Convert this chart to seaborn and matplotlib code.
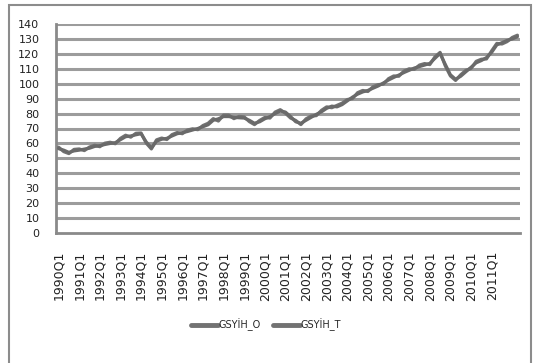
import numpy as np
import pandas as pd
import seaborn as sns
import matplotlib
matplotlib.use("Agg")
import matplotlib.pyplot as plt
from matplotlib.patches import Rectangle
from matplotlib.ticker import FixedLocator, NullFormatter

# Quarterly GDP index, 1990Q1 - 2012Q2
years = list(range(1990, 2013))
quarters = [f"{y}Q{q}" for y in years for q in range(1, 5)][:90]

gsyih_t = [56.5, 55.5, 54.0, 55.0, 55.5, 56.2, 56.8, 58.0, 58.5, 59.3,
           60.0, 60.5, 62.5, 64.5, 65.0, 65.8, 66.5, 61.0, 57.0, 61.5,
           62.8, 63.4, 65.0, 66.5, 67.2, 68.0, 69.0, 70.0, 71.2, 72.5,
           75.5, 76.5, 78.0, 78.0, 77.5, 77.2, 77.0, 75.5, 73.5, 74.5,
           76.5, 78.0, 80.0, 81.7, 81.0, 78.0, 74.5, 73.5, 75.5, 77.5,
           79.5, 81.2, 83.5, 85.0, 84.5, 86.0, 88.5, 91.0, 93.0, 94.5,
           95.5, 97.0, 98.5, 100.5, 102.5, 104.2, 105.8, 107.5, 109.0, 110.5,
           111.5, 112.5, 113.6, 117.0, 120.3, 113.0, 106.0, 103.0, 105.0, 108.0,
           111.0, 114.0, 115.5, 117.5, 121.0, 126.0, 127.5, 129.0, 130.0, 131.5]

gsyih_o = [57.5, 54.5, 53.2, 56.0, 56.3, 55.2, 57.6, 58.8, 57.8, 60.2,
           60.8, 59.8, 63.4, 65.5, 64.2, 66.8, 67.0, 60.2, 56.3, 62.4,
           63.6, 62.6, 65.9, 67.3, 66.5, 69.0, 69.8, 69.2, 72.0, 73.5,
           76.6, 75.0, 79.0, 79.0, 76.6, 78.1, 77.8, 74.6, 72.6, 75.4,
           77.4, 77.0, 81.0, 82.6, 80.2, 77.0, 75.4, 72.6, 76.5, 78.4,
           78.6, 82.2, 84.5, 83.9, 85.5, 87.0, 89.4, 90.0, 94.0, 95.5,
           94.8, 98.0, 99.4, 99.7, 103.4, 105.2, 105.0, 108.5, 110.0, 109.6,
           112.5, 113.5, 112.8, 118.0, 121.0, 112.0, 105.2, 102.2, 106.0, 109.0,
           110.2, 115.0, 116.4, 116.6, 122.0, 127.0, 126.6, 128.2, 131.0, 132.5]

# labelled categories: first quarter of 1990 ... 2011
label_pos = list(range(0, 85, 4))
y_ticks = list(range(0, 141, 10))

n = len(quarters)
df = pd.DataFrame({
    "idx": list(range(n)) * 2,
    "value": gsyih_o + gsyih_t,
    "series": ["GSYİH_O"] * n + ["GSYİH_T"] * n,
})

sns.set_style("white")
plt.rcParams["font.family"] = ["DejaVu Sans"]

fig = plt.figure(figsize=(5.33, 3.63), dpi=100)
ax = fig.add_axes([56 / 533, 1 - 233 / 363, (520 - 56) / 533, (233 - 24) / 363])

# chart frame
fig.patches.append(Rectangle((9 / 533, -0.01), (531 - 9) / 533, 1 - 5 / 363 + 0.01,
                             transform=fig.transFigure, fill=False,
                             edgecolor="#8c8c8c", linewidth=1.5))

for yv in y_ticks[1:]:
    ax.axhline(yv, color="#9c9c9c", linewidth=2.2, zorder=1)

sns.lineplot(data=df, x="idx", y="value", hue="series",
             palette=["#727272", "#6a6a6a"], linewidth=2.3, ax=ax,
             legend=True, zorder=3)

ax.set_xlim(-0.5, n - 0.5)
ax.set_ylim(0, 140)
ax.set_yticks(y_ticks)
ax.set_yticklabels([str(v) for v in y_ticks], fontsize=8, color="#222222")

ax.xaxis.set_major_locator(FixedLocator(label_pos))
ax.set_xticklabels([quarters[i] for i in label_pos], rotation=90,
                   fontsize=9, color="#222222")
ax.xaxis.set_minor_locator(FixedLocator(np.arange(-0.5, n, 1.0)))
ax.xaxis.set_minor_formatter(NullFormatter())
ax.tick_params(axis="x", which="major", length=0, pad=13)
ax.tick_params(axis="x", which="minor", length=4, width=1.0,
               color="#8a8a8a", direction="out")
ax.tick_params(axis="y", which="major", length=4, width=1.2,
               color="#8a8a8a", direction="out", pad=8)
ax.set_xlabel("")
ax.set_ylabel("")

for side in ["top", "right"]:
    ax.spines[side].set_visible(False)
for side in ["left", "bottom"]:
    ax.spines[side].set_color("#8a8a8a")
    ax.spines[side].set_linewidth(2.0)

leg = ax.legend(loc="center", bbox_to_anchor=(266 / 533, 1 - 325 / 363),
                bbox_transform=fig.transFigure, ncol=2, frameon=False,
                fontsize=7, handlelength=2.8, handletextpad=0.1,
                columnspacing=1.2)
for line in leg.get_lines():
    line.set_linewidth(3.5)
    line.set_color("#727272")

fig.savefig("out.png", dpi=100)
